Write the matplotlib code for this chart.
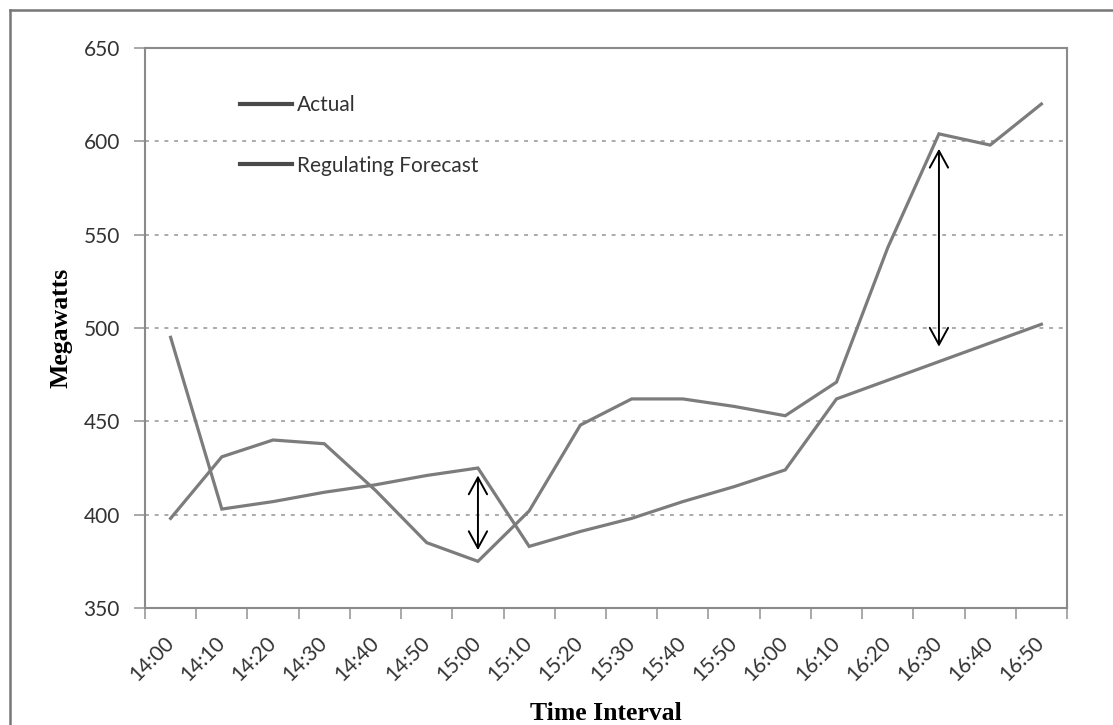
import matplotlib
matplotlib.use("Agg")
import matplotlib.pyplot as plt
from matplotlib.lines import Line2D

times = ["14:00", "14:10", "14:20", "14:30", "14:40", "14:50",
         "15:00", "15:10", "15:20", "15:30", "15:40", "15:50",
         "16:00", "16:10", "16:20", "16:30", "16:40", "16:50"]
actual = [398, 431, 440, 438, 413, 385, 375, 402, 448, 462, 462, 458,
          453, 471, 543, 604, 598, 620]
forecast = [495, 403, 407, 412, 416, 421, 425, 383, 391, 398, 407, 415,
            424, 462, 472, 482, 492, 502]
arrow_labels = ["15:00", "16:30"]
arrow_top = [421, 596]
arrow_bottom = [381, 490]

yticks = [350, 400, 450, 500, 550, 600, 650]

W, H = 1113, 725
fig = plt.figure(figsize=(W / 100, H / 100), dpi=100)
ax = fig.add_axes([145 / W, 1 - 608 / H, (1067 - 145) / W, (608 - 48) / H])

line_col = "#7c7c7c"
x = list(range(len(times)))
ax.plot(x, forecast, color=line_col, lw=2.3, solid_joinstyle="miter", zorder=3)
ax.plot(x, actual, color=line_col, lw=2.3, solid_joinstyle="miter", zorder=3)

for lab, top, bot in zip(arrow_labels, arrow_top, arrow_bottom):
    xi = times.index(lab)
    ax.annotate("", xy=(xi, top), xytext=(xi, bot),
                arrowprops=dict(arrowstyle="<->,head_length=0.55,head_width=0.3",
                                color="black", lw=1.4, mutation_scale=22,
                                shrinkA=0, shrinkB=0), zorder=4)

ax.set_xlim(-0.5, len(times) - 0.5)
ax.set_ylim(350, 650)
ax.set_yticks(yticks)
ax.set_yticklabels([str(v) for v in yticks], fontfamily="Lato", fontsize=15,
                   color="#333333")
ax.set_xticks(x)
ax.set_xticklabels(times, rotation=45, ha="right", va="center",
                   rotation_mode="anchor", fontfamily="Lato", fontsize=15,
                   color="#333333")
ax.set_xticks([i - 0.5 for i in range(len(times) + 1)], minor=True)
ax.tick_params(axis="x", which="major", length=0, pad=23)
ax.tick_params(axis="x", which="minor", length=8, width=1.2, color="#999999",
               direction="out")
ax.tick_params(axis="y", length=8, width=1.2, color="#999999", pad=10)

for v in [400, 450, 500, 550, 600]:
    ax.axhline(v, color="#aaaaaa", lw=1.4, ls=(0, (2, 3)), zorder=1)

for sp in ax.spines.values():
    sp.set_color("#8a8a8a")
    sp.set_linewidth(1.5)

fig.text(606 / W, 1 - 713 / H, "Time Interval", fontfamily="Liberation Serif",
         fontweight="bold", fontsize=18.5, ha="center", va="center")
fig.text(61 / W, 1 - 328 / H, "Megawatts", fontfamily="Liberation Serif",
         fontweight="bold", fontsize=18.5, ha="center", va="center",
         rotation=90)

handles = [Line2D([], [], color="#4a4a4a", lw=3),
           Line2D([], [], color="#4a4a4a", lw=3)]
leg = fig.legend(handles, ["Actual", "Regulating Forecast"], loc="upper left",
                 bbox_to_anchor=(240 / W, 1 - 95 / H),
                 bbox_transform=fig.transFigure, frameon=False,
                 prop={"family": "Lato", "size": 15}, handlelength=2.5,
                 handletextpad=0.25, labelspacing=1.95, borderpad=0,
                 borderaxespad=0)
for t in leg.get_texts():
    t.set_color("#333333")

# outer chart frame
fig.add_artist(Line2D([10 / W, 10 / W], [0, 1 - 10 / H], color="#777777",
                      lw=1.8, transform=fig.transFigure))
fig.add_artist(Line2D([10 / W, 1], [1 - 10 / H, 1 - 10 / H], color="#777777",
                      lw=1.8, transform=fig.transFigure))

fig.savefig("out.png", dpi=100)
